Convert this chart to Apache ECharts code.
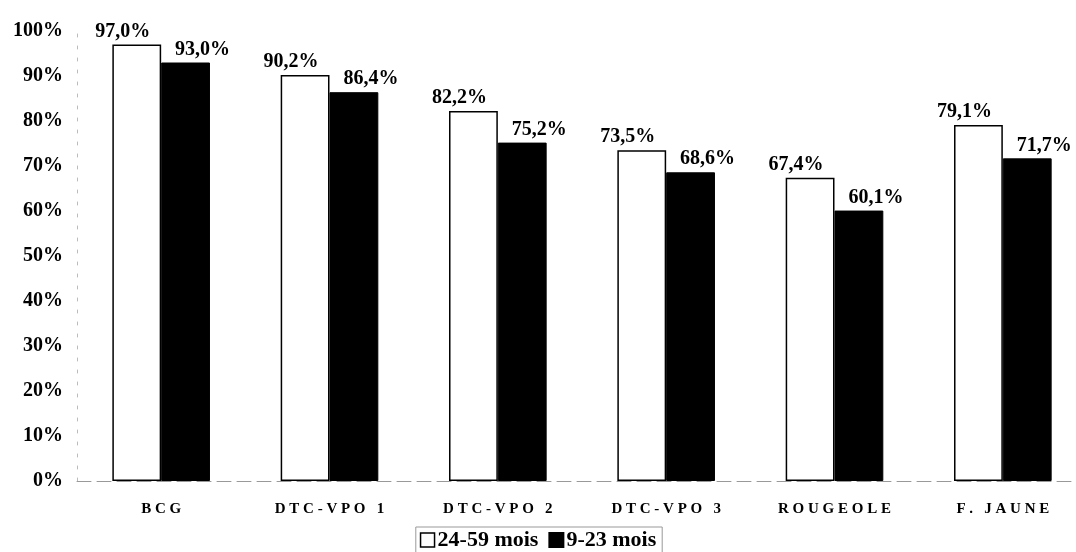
<!DOCTYPE html>
<html>
<head>
<meta charset="utf-8">
<script src="https://cdn.jsdelivr.net/npm/echarts@6/dist/echarts.min.js"></script>
<style>
  html, body { margin: 0; padding: 0; background: #fff; }
  #chart { width: 1076px; height: 552px; }
</style>
</head>
<body>
<div id="chart"></div>
<script>
// Couverture vaccinale par antigène et par groupe d'âge
const categories = ['BCG', 'DTC-VPO 1', 'DTC-VPO 2', 'DTC-VPO 3', 'ROUGEOLE', 'F. JAUNE'];
const seriesNames = ['24-59 mois', '9-23 mois'];
const values2459 = [97.0, 90.2, 82.2, 73.5, 67.4, 79.1];
const values923 = [93.0, 86.4, 75.2, 68.6, 60.1, 71.7];
const yTicks = [0, 10, 20, 30, 40, 50, 60, 70, 80, 90, 100];

const serif = '"Liberation Serif", "DejaVu Serif", serif';
const pct = v => v.toFixed(1).replace('.', ',') + '%';
const spaced = s => s.split('').join(' ');

const chart = echarts.init(document.getElementById('chart'), null, { renderer: 'canvas' });
chart.setOption({
  backgroundColor: '#fff',
  animation: false,
  grid: { left: 77, width: 1010, top: 31, bottom: 71, outerBoundsMode: 'none' },
  legend: {
    left: 'center', top: 527,
    itemGap: 10,
    itemWidth: 14, itemHeight: 14,
    padding: [2, 6, 2, 4],
    borderColor: '#999', borderWidth: 1,
    textStyle: { fontFamily: serif, fontWeight: 'bold', fontSize: 22, color: '#000', padding: [0, 0, 0, -2] },
    data: [
      { name: seriesNames[0], icon: 'rect', itemStyle: { color: '#fff', borderColor: '#000', borderWidth: 1.5 } },
      { name: seriesNames[1], icon: 'rect' }
    ]
  },
  xAxis: {
    type: 'category',
    data: categories,
    axisLine: { lineStyle: { color: '#999', width: 1, type: [14, 6] } },
    axisTick: { show: false },
    axisLabel: {
      margin: 21,
      fontFamily: serif, fontWeight: 'bold', fontSize: 15, color: '#000',
      formatter: v => spaced(v)
    }
  },
  yAxis: {
    type: 'value',
    min: 0, max: 100, interval: 10,
    axisLine: { show: true, lineStyle: { color: '#bbb', width: 1, type: [3, 9] } },
    axisTick: { show: false },
    splitLine: { show: false },
    axisLabel: {
      margin: 14,
      fontFamily: serif, fontWeight: 'bold', fontSize: 20, color: '#000',
      formatter: v => (yTicks.includes(v) ? v + '%' : '')
    }
  },
  series: [
    {
      name: seriesNames[0], type: 'bar', data: values2459,
      barGap: '0%', barCategoryGap: '42%',
      itemStyle: { color: '#fff', borderColor: '#000', borderWidth: 1.5 },
      label: {
        show: true, position: 'top', distance: 3, offset: [-14, 0],
        fontFamily: serif, fontWeight: 'bold', fontSize: 20, color: '#000',
        formatter: p => pct(p.value)
      }
    },
    {
      name: seriesNames[1], type: 'bar', data: values923,
      itemStyle: { color: '#000', borderColor: '#000', borderWidth: 1 },
      label: {
        show: true, position: 'top', distance: 3, offset: [17, 0],
        fontFamily: serif, fontWeight: 'bold', fontSize: 20, color: '#000',
        formatter: p => pct(p.value)
      }
    }
  ]
});
</script>
</body>
</html>
